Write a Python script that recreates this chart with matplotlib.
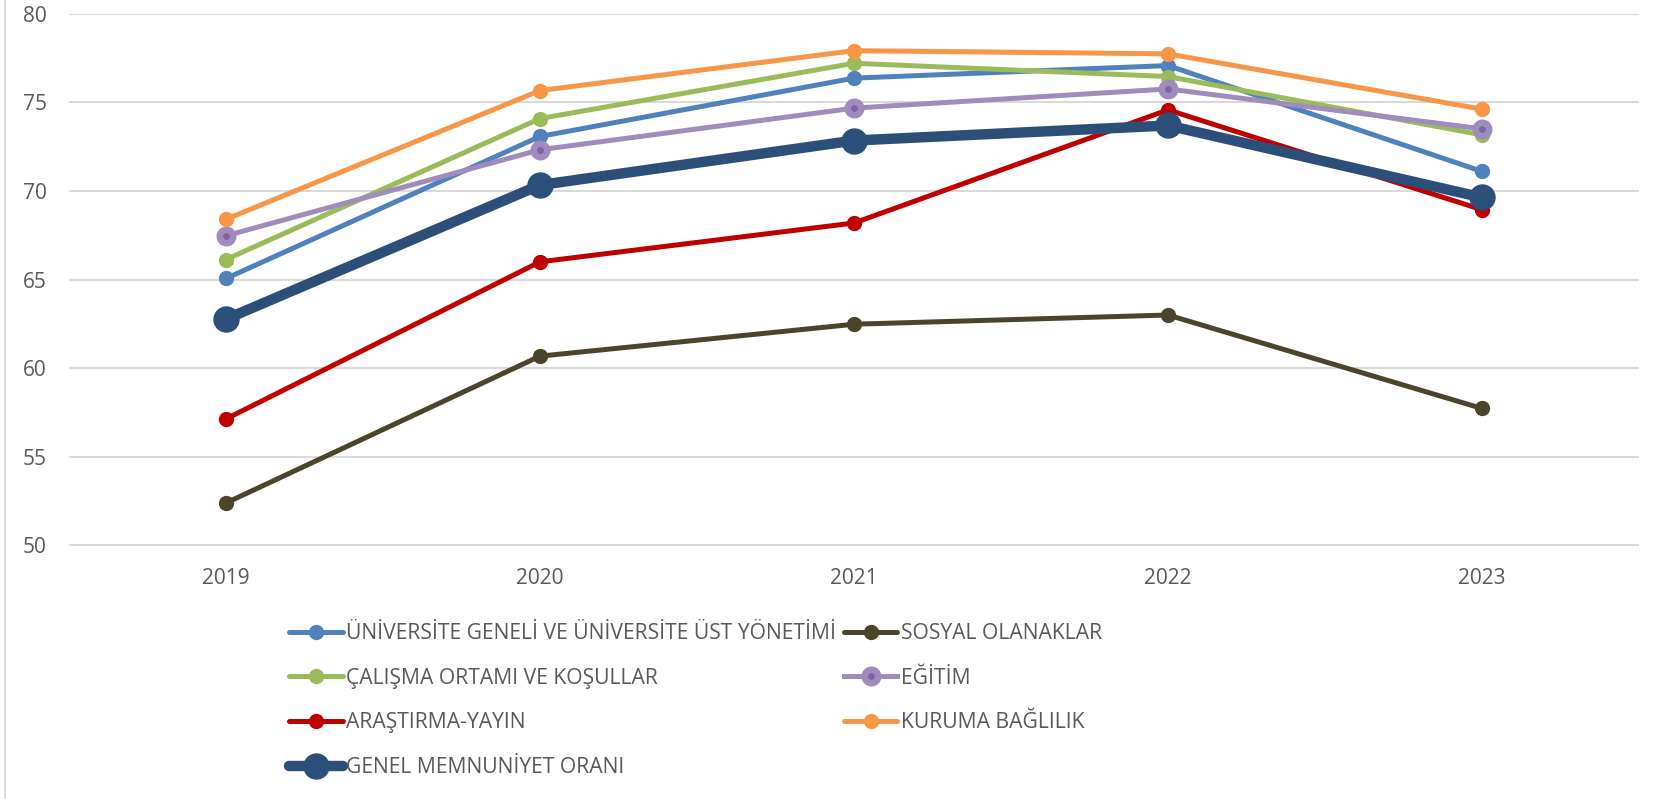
import matplotlib
matplotlib.use('Agg')
from matplotlib import pyplot as plt
from matplotlib.lines import Line2D

# veriler
years = ['2019', '2020', '2021', '2022', '2023']
universite = [65.06, 73.07, 76.36, 77.07, 71.10]
sosyal = [52.40, 60.68, 62.48, 63.00, 57.73]
calisma = [66.13, 74.08, 77.20, 76.45, 73.16]
egitim = [67.47, 72.32, 74.67, 75.75, 73.50]
arastirma = [57.14, 66.00, 68.19, 74.57, 68.94]
kuruma = [68.40, 75.66, 77.91, 77.73, 74.61]
genel = [62.77, 70.33, 72.84, 73.69, 69.63]

yticks = [50, 55, 60, 65, 70, 75, 80]

W, H = 1666, 799
fig = plt.figure(figsize=(W / 100, H / 100), dpi=100)
ax = fig.add_axes([69 / W, 1 - 545.5 / H, (1639 - 69) / W, (545.5 - 13.6) / H])

x = list(range(len(years)))
kw = dict(lw=3.6, marker='o', ms=10, solid_capstyle='round')
h_uni, = ax.plot(x, universite, color='#4F81BD', label='ÜNİVERSİTE GENELİ VE ÜNİVERSİTE ÜST YÖNETİMİ', **kw)
h_sos, = ax.plot(x, sosyal, color='#4A452A', label='SOSYAL OLANAKLAR', **kw)
h_cal, = ax.plot(x, calisma, color='#9BBB59', label='ÇALIŞMA ORTAMI VE KOŞULLAR', **kw)
h_egi, = ax.plot(x, egitim, color='#A08BBD', lw=3.6, marker='o', ms=9.7, mfc='#8064A2',
                 mec='#A08BBD', mew=4.7, label='EĞİTİM')
h_ara, = ax.plot(x, arastirma, color='#C00000', label='ARAŞTIRMA-YAYIN', **kw)
h_kur, = ax.plot(x, kuruma, color='#F79646', label='KURUMA BAĞLILIK', **kw)
h_gen, = ax.plot(x, genel, color='#2C4F7A', lw=7.5, marker='o', ms=18,
                 solid_capstyle='round', label='GENEL MEMNUNİYET ORANI')

ax.set_xlim(-0.5, 4.5)
ax.set_ylim(50, 80)
ax.set_yticks(yticks)
ax.set_xticks(x)
ax.set_xticklabels(years)
ax.grid(axis='y', color='#D9D9D9', lw=1.5)
ax.set_axisbelow(True)
for s in ax.spines.values():
    s.set_visible(False)
ax.tick_params(length=0, labelsize=15, labelcolor='#595959')
ax.tick_params(axis='y', pad=16)
ax.tick_params(axis='x', pad=16)
for t in ax.get_xticklabels() + ax.get_yticklabels():
    t.set_fontfamily(['Open Sans', 'DejaVu Sans'])

# legend satir satir dolsun diye sira degisik
handles = [h_uni, h_cal, h_ara, h_gen, h_sos, h_egi, h_kur]
leg = fig.legend(handles=handles, labels=[h.get_label() for h in handles],
                 ncol=2, loc='upper left', bbox_to_anchor=(270 / W, 1 - 604 / H),
                 frameon=False, handlelength=2.55, handletextpad=0.15,
                 columnspacing=0.36, labelspacing=1.12,
                 prop={'family': ['Open Sans', 'DejaVu Sans'], 'size': 15.2})
for t in leg.get_texts():
    t.set_color('#595959')

fig.add_artist(Line2D([4.5 / W, 4.5 / W], [0, 1], color='#D9D9D9', lw=1.5))

fig.savefig('out.png', dpi=100)
